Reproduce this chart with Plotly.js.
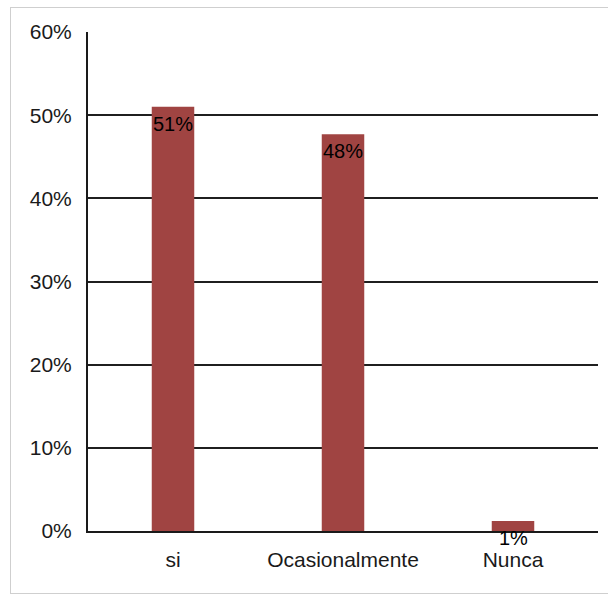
<!DOCTYPE html>
<html>
<head>
<meta charset="utf-8">
<script src="https://cdn.plot.ly/plotly-3.0.1.min.js"></script>
<style>
  html, body { margin: 0; padding: 0; background: #ffffff; }
  #wrap { position: relative; width: 608px; height: 594px; overflow: hidden; }
  #chart { width: 608px; height: 594px; }
  #frame {
    position: absolute; left: 10px; top: 7px; width: 620px; height: 585px;
    border: 1px solid #cfcfcf; pointer-events: none;
  }
</style>
</head>
<body>
<div id="wrap">
  <div id="chart"></div>
  <div id="frame"></div>
</div>
<script>
// Survey answers and their share of respondents
const categories = ['si', 'Ocasionalmente', 'Nunca'];
const shares = [0.51, 0.477, 0.012];
const yTickValues = [0, 0.1, 0.2, 0.3, 0.4, 0.5, 0.6];

const FONT = 'Liberation Sans, Arial, sans-serif';
const BAR_COLOR = '#A04442';

const pct = v => Math.round(v * 100) + '%';

const trace = {
  type: 'bar',
  x: categories,
  y: shares,
  width: 0.25,
  marker: { color: BAR_COLOR, line: { width: 0 } },
  hoverinfo: 'skip'
};

// Value labels sitting just under the top of each bar
const labels = categories.map((c, i) => ({
  x: c, y: shares[i], xref: 'x', yref: 'y',
  text: pct(shares[i]),
  showarrow: false,
  yanchor: 'top',
  yshift: -4,
  font: { family: FONT, size: 20, color: '#000000' }
}));

const layout = {
  width: 608,
  height: 594,
  margin: { l: 88, r: 10, t: 32, b: 63 },
  paper_bgcolor: '#ffffff',
  plot_bgcolor: '#ffffff',
  showlegend: false,
  font: { family: FONT, size: 20, color: '#000000' },
  xaxis: {
    type: 'category',
    showgrid: false,
    showline: true,
    linecolor: '#1a1a1a',
    linewidth: 2,
    ticks: '',
    ticklabelstandoff: 9,
    tickfont: { family: FONT, size: 21, color: '#1a1a1a' },
    fixedrange: true
  },
  yaxis: {
    range: [0, 0.6],
    tickvals: yTickValues,
    tickformat: '.0%',
    showgrid: true,
    gridcolor: '#1f1f1f',
    gridwidth: 2,
    zeroline: false,
    showline: true,
    linecolor: '#1a1a1a',
    linewidth: 2,
    ticks: '',
    ticklabelstandoff: 10,
    tickfont: { family: FONT, size: 21, color: '#1a1a1a' },
    fixedrange: true
  },
  annotations: labels
};

Plotly.newPlot('chart', [trace], layout, { displayModeBar: false, staticPlot: true });
</script>
</body>
</html>
